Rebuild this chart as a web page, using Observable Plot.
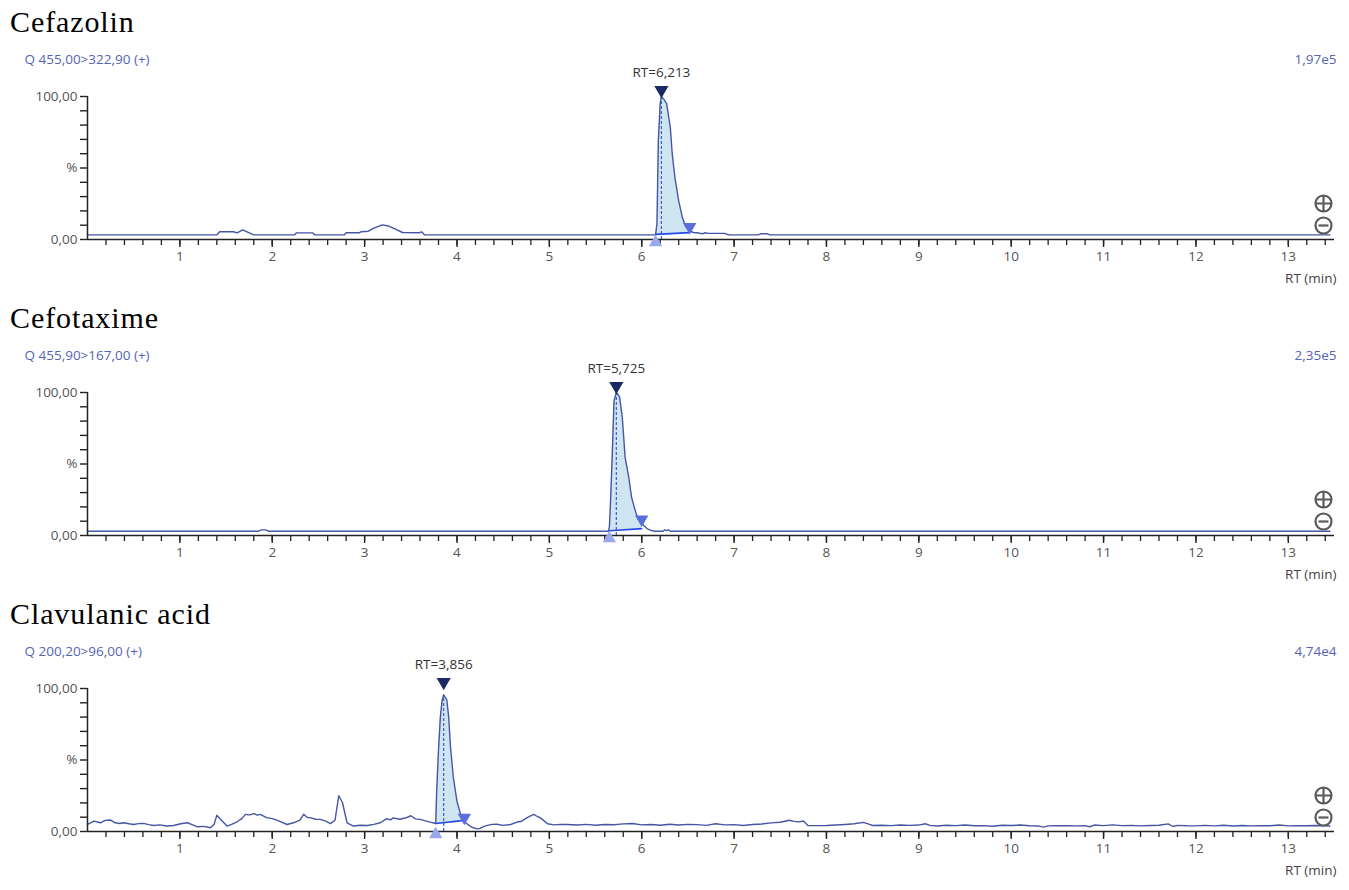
<!DOCTYPE html>
<html><head><meta charset="utf-8">
<script src="https://cdn.jsdelivr.net/npm/d3@7"></script>
<script src="https://cdn.jsdelivr.net/npm/@observablehq/plot@0.6"></script>
<style>
html,body{margin:0;padding:0;background:#fff;overflow:hidden;}
body{padding-top:4px;width:1349px;}
.title{height:36px;line-height:36px;font-family:"Liberation Serif",serif;font-size:30px;letter-spacing:0.9px;padding-left:10px;color:#000;white-space:nowrap;}
.panel svg{display:block;}
</style></head><body><div id="root"></div>
<script>
// ---------- data ----------
const compounds = ["Cefazolin", "Cefotaxime", "Clavulanic acid"];
const channels = ["Q 455,00>322,90 (+)", "Q 455,90>167,00 (+)", "Q 200,20>96,00 (+)"];
const intensities = ["1,97e5", "2,35e5", "4,74e4"];
const retentionTimes = [6.213, 5.725, 3.856];
const rtLabels = ["RT=6,213", "RT=5,725", "RT=3,856"];
const peakStarts = [6.15, 5.65, 3.77];
const peakEnds = [6.52, 6.00, 4.08];
const baselineStartPct = [3.6, 3.3, 5.6];
const baselineEndPct = [4.8, 4.8, 7.8];

const cefazolinTime = [0, 1.40, 1.43, 1.58, 1.62, 1.68, 1.74, 1.80, 2.24, 2.26, 2.44, 2.46, 2.78, 2.80, 2.94, 2.96, 3.04, 3.10, 3.19, 3.26, 3.34, 3.41, 3.59, 3.62, 3.65, 6.15, 6.165, 6.18, 6.20, 6.213, 6.24, 6.27, 6.31, 6.33, 6.36, 6.40, 6.44, 6.47, 6.51, 6.56, 6.62, 6.66, 6.68, 6.72, 6.90, 6.92, 6.95, 7.26, 7.29, 7.36, 7.39, 13.45];
const cefazolinPct = [3.2, 3.2, 5.4, 5.4, 4.6, 6.8, 5.0, 3.2, 3.2, 4.6, 4.6, 3.2, 3.2, 4.7, 4.7, 5.4, 5.8, 8.0, 10.2, 9.4, 7.0, 4.9, 4.7, 5.3, 3.2, 3.2, 11, 69, 95, 100, 98, 95, 78, 60, 43, 27, 15.5, 9.8, 6.3, 4.9, 4.5, 4.0, 4.7, 4.3, 4.3, 3.7, 3.2, 3.2, 4.0, 4.0, 3.2, 3.2];

const cefotaximeTime = [0, 1.85, 1.88, 1.93, 1.96, 5.64, 5.65, 5.66, 5.68, 5.70, 5.725, 5.76, 5.79, 5.82, 5.86, 5.89, 5.93, 5.96, 6.02, 6.06, 6.10, 6.14, 6.23, 6.25, 6.27, 6.29, 6.31, 13.45];
const cefotaximePct = [3.0, 3.0, 3.9, 3.9, 3.0, 3.0, 5.8, 19.7, 54.6, 94, 100, 97, 82.4, 54.6, 40.6, 26.7, 17.4, 11.6, 7.0, 4.7, 3.6, 3.0, 3.0, 4.0, 3.4, 4.0, 3.0, 3.0];

const clavulanicTime = [0.00, 0.07, 0.14, 0.19, 0.25, 0.30, 0.35, 0.39, 0.45, 0.50, 0.55, 0.61, 0.66, 0.72, 0.78, 0.86, 0.93, 1.01, 1.08, 1.14, 1.19, 1.26, 1.33, 1.37, 1.40, 1.44, 1.51, 1.56, 1.62, 1.67, 1.71, 1.76, 1.80, 1.84, 1.87, 1.94, 2.00, 2.05, 2.10, 2.16, 2.23, 2.30, 2.34, 2.38, 2.41, 2.47, 2.52, 2.58, 2.63, 2.68, 2.72, 2.76, 2.81, 2.88, 2.95, 3.03, 3.10, 3.17, 3.24, 3.28, 3.31, 3.38, 3.44, 3.50, 3.55, 3.60, 3.66, 3.71, 3.77,
  3.78, 3.80, 3.82, 3.84, 3.856, 3.89, 3.91, 3.93, 3.96, 4.00, 4.04, 4.07, 4.11, 4.16, 4.22, 4.25, 4.30, 4.33, 4.38, 4.43, 4.50, 4.58, 4.65, 4.70, 4.76, 4.83, 4.87, 4.90, 4.98, 5.05, 5.12, 5.19,
  5.3, 5.4, 5.5, 5.6, 5.7, 5.8, 5.9, 6.0, 6.1, 6.2, 6.3, 6.4, 6.5, 6.6, 6.7, 6.8, 6.9, 7.0, 7.1, 7.2, 7.3, 7.4, 7.5, 7.6, 7.65, 7.7, 7.75, 7.8, 7.9, 8.0, 8.1, 8.2, 8.3, 8.4, 8.45, 8.5, 8.6, 8.7, 8.8, 8.9, 9.0, 9.07, 9.12, 9.2, 9.3, 9.4, 9.5, 9.6, 9.7, 9.8, 9.9, 10.0, 10.1, 10.2, 10.3, 10.35, 10.4, 10.5, 10.6, 10.7, 10.8, 10.85, 10.9, 11.0, 11.1, 11.2, 11.3, 11.4, 11.5, 11.6, 11.7, 11.75, 11.8, 11.9, 12.0, 12.1, 12.2, 12.3, 12.4, 12.5, 12.6, 12.7, 12.8, 12.9, 13.0, 13.1, 13.2, 13.3, 13.4, 13.45];
const clavulanicPct = [4.9, 7.3, 6.1, 7.8, 8.0, 6.1, 5.6, 6.1, 5.4, 4.9, 5.5, 5.7, 4.8, 4.2, 4.6, 3.8, 4.2, 5.4, 6.1, 4.6, 3.3, 3.6, 2.6, 4.9, 11.3, 8.5, 3.8, 5.0, 6.8, 9.0, 12.0, 11.6, 12.5, 11.4, 12.0, 9.7, 9.0, 8.0, 6.6, 4.9, 6.1, 8.0, 12.0, 9.8, 9.7, 8.6, 8.5, 7.2, 5.5, 7.9, 25.0, 20.3, 6.1, 3.8, 4.4, 4.2, 5.0, 6.1, 9.0, 8.1, 9.5, 8.6, 9.4, 11.0, 8.8, 8.5, 7.4, 6.6, 5.6,
  28, 57, 80, 92, 95.5, 92, 80, 59, 38, 21, 12, 7.5, 5.3, 3.0, 1.8, 2.2, 3.8, 4.3, 5.0, 5.1, 4.3, 4.9, 6.6, 7.2, 9.7, 12.0, 10.5, 9.7, 5.4, 4.6, 5.0, 4.9,
  4.5, 5.0, 4.4, 4.9, 4.7, 5.3, 5.6, 4.6, 4.9, 4.4, 5.1, 4.5, 5.0, 4.8, 4.3, 5.4, 4.6, 4.8, 4.2, 4.9, 5.2, 6.0, 6.5, 7.9, 7.1, 6.7, 7.3, 4.2, 4.1, 4.2, 4.5, 4.9, 5.4, 6.4, 5.3, 4.2, 4.4, 4.1, 4.5, 4.3, 4.5, 5.4, 4.3, 3.8, 4.4, 4.1, 4.5, 4.0, 4.1, 3.7, 4.4, 4.2, 4.5, 4.0, 3.8, 3.1, 3.9, 4.0, 4.0, 3.9, 4.1, 3.3, 4.5, 4.1, 4.6, 4.1, 4.3, 3.9, 4.2, 4.4, 5.3, 3.5, 4.3, 4.0, 3.9, 4.3, 3.9, 4.4, 3.8, 4.2, 3.9, 4.1, 4.0, 4.5, 3.9, 4.0, 4.0, 4.2, 3.9, 3.8];

const traceTimes = [cefazolinTime, cefotaximeTime, clavulanicTime];
const tracePcts = [cefazolinPct, cefotaximePct, clavulanicPct];

const xTickLabels = [1, 2, 3, 4, 5, 6, 7, 8, 9, 10, 11, 12, 13];
const yTickValues = [0, 50, 100];
const yTickTexts = ["0,00", "%", "100,00"];
const yMinorStep = 10;
const xMinorStep = 0.2;
const xAxisTitle = "RT (min)";

// ---------- styling ----------
const smallFont = '"Open Sans", "Noto Sans", sans-serif';
const traceColor = "#4655a4";
const fillColor = "#cfe6f2";
const labelBlue = "#5564b4";
const tickTextColor = "#555";

// ---------- helpers ----------
function interp(ts, vs, t) {
  for (let i = 1; i < ts.length; i++) {
    if (t <= ts[i]) {
      const f = (t - ts[i - 1]) / (ts[i] - ts[i - 1]);
      return vs[i - 1] + f * (vs[i] - vs[i - 1]);
    }
  }
  return vs[vs.length - 1];
}

const minusSymbol = {
  draw(context, size) {
    const r = Math.sqrt(size / Math.PI);
    context.moveTo(-r, 0);
    context.lineTo(r, 0);
  }
};

const root = document.getElementById("root");

compounds.forEach((name, k) => {
  const ts = traceTimes[k], vs = tracePcts[k];
  const data = ts.map((t, i) => ({t, v: vs[i]}));
  const s = peakStarts[k], e = peakEnds[k];
  const bs = baselineStartPct[k], be = baselineEndPct[k];
  const base = t => bs + (t - s) / (e - s) * (be - bs);
  const inPeak = data.filter(d => d.t > s && d.t < e);
  const fillData = [{t: s, v: interp(ts, vs, s)}, ...inPeak, {t: e, v: interp(ts, vs, e)}]
    .map(d => ({t: d.t, v: d.v, b: base(d.t)}));
  const rt = retentionTimes[k];
  const apexVal = interp(ts, vs, rt);
  const endVal = interp(ts, vs, e);

  const minorX = d3.range(1, Math.round(13.4 / xMinorStep) + 1).map(i => +(i * xMinorStep).toFixed(1));
  const minorY = d3.range(0, 101, yMinorStep);
  const yFmt = new Map(yTickValues.map((v, i) => [v, yTickTexts[i]]));

  const title = document.createElement("div");
  title.className = "title";
  title.textContent = name;
  root.appendChild(title);

  const chart = Plot.plot({
    width: 1349,
    height: k === 2 ? 255 : 260,
    marginLeft: 87,
    marginRight: 15,
    marginTop: 56,
    marginBottom: k === 2 ? 56 : 61,
    x: {domain: [0, 13.5], axis: null},
    y: {domain: [0, 100], axis: null},
    style: {fontFamily: smallFont, fontSize: "13px", background: "#fff"},
    marks: [
      Plot.areaY(fillData, {x: "t", y1: "b", y2: "v", fill: fillColor}),
      Plot.ruleX([rt], {y1: 0, y2: apexVal, stroke: "#3c5cc8", strokeWidth: 1.2, strokeDasharray: "3,2"}),
      Plot.line([{t: s, b: bs}, {t: e, b: be}], {x: "t", y: "b", stroke: "#2448e6", strokeWidth: 1.6}),
      Plot.lineY(data, {x: "t", y: "v", stroke: traceColor, strokeWidth: 1.4}),
      // axes
      Plot.ruleY([0], {stroke: "#222", strokeWidth: 1.5}),
      Plot.ruleX([0], {stroke: "#222", strokeWidth: 1.5}),
      Plot.axisX(minorX, {tickSize: 6, tickFormat: () => "", stroke: "#222", strokeWidth: 1.3, label: null}),
      Plot.axisX(xTickLabels, {tickSize: 8, tickPadding: 4, stroke: "#222", strokeWidth: 1.4, fill: tickTextColor, label: null, fontSize: 13.5}),
      Plot.axisY(minorY, {tickSize: 7, tickPadding: 3, stroke: "#222", strokeWidth: 1.4, fill: tickTextColor,
        tickFormat: d => yFmt.get(d) ?? "", label: null, fontSize: 13.5}),
      // peak markers
      Plot.dot([{t: rt, v: 100}], {x: "t", y: "v", symbol: "triangle", rotate: 180, r: 4.3, fill: "#1b2a63", stroke: "#1b2a63", dy: -6.5}),
      Plot.text([rtLabels[k]], {x: rt, y: 100, text: d => d, dy: -24, fill: "#333", fontSize: 13.5, textAnchor: "middle", lineAnchor: "middle"}),
      Plot.dot([{t: e, v: endVal}], {x: "t", y: "v", symbol: "triangle", rotate: 180, r: 4, fill: "#5c6ddc", stroke: "#5c6ddc", dy: -4}),
      Plot.dot([{t: s, v: 0}], {x: "t", y: "v", symbol: "triangle", r: 4, fill: "#9aa8ee", stroke: "#9aa8ee", dy: 3}),
      // labels
      Plot.text([channels[k]], {frameAnchor: "top-left", text: d => d, dx: -63, dy: -37, fill: labelBlue, textAnchor: "start", lineAnchor: "middle", fontSize: 13.5}),
      Plot.text([intensities[k]], {frameAnchor: "top-right", text: d => d, dx: 2, dy: -37, fill: labelBlue, textAnchor: "end", lineAnchor: "middle", fontSize: 13.5}),
      Plot.text([xAxisTitle], {frameAnchor: "bottom-right", text: d => d, dx: 2, dy: 39, fill: "#444", textAnchor: "end", lineAnchor: "middle", fontSize: 13.5}),
      // zoom icons
      Plot.dot([0], {frameAnchor: "bottom-right", dx: -11, dy: -36, r: 8, fill: "#fff", stroke: "#5a5a5a", strokeWidth: 2.2}),
      Plot.dot([0], {frameAnchor: "bottom-right", dx: -11, dy: -36, r: 5, symbol: "plus", stroke: "#5a5a5a", strokeWidth: 2.2}),
      Plot.dot([0], {frameAnchor: "bottom-right", dx: -11, dy: -14, r: 8, fill: "#fff", stroke: "#5a5a5a", strokeWidth: 2.2}),
      Plot.dot([0], {frameAnchor: "bottom-right", dx: -11, dy: -14, r: 5, symbol: minusSymbol, fill: "none", stroke: "#5a5a5a", strokeWidth: 2.2})
    ]
  });
  const wrap = document.createElement("div");
  wrap.className = "panel";
  wrap.appendChild(chart);
  root.appendChild(wrap);
});
</script></body></html>
